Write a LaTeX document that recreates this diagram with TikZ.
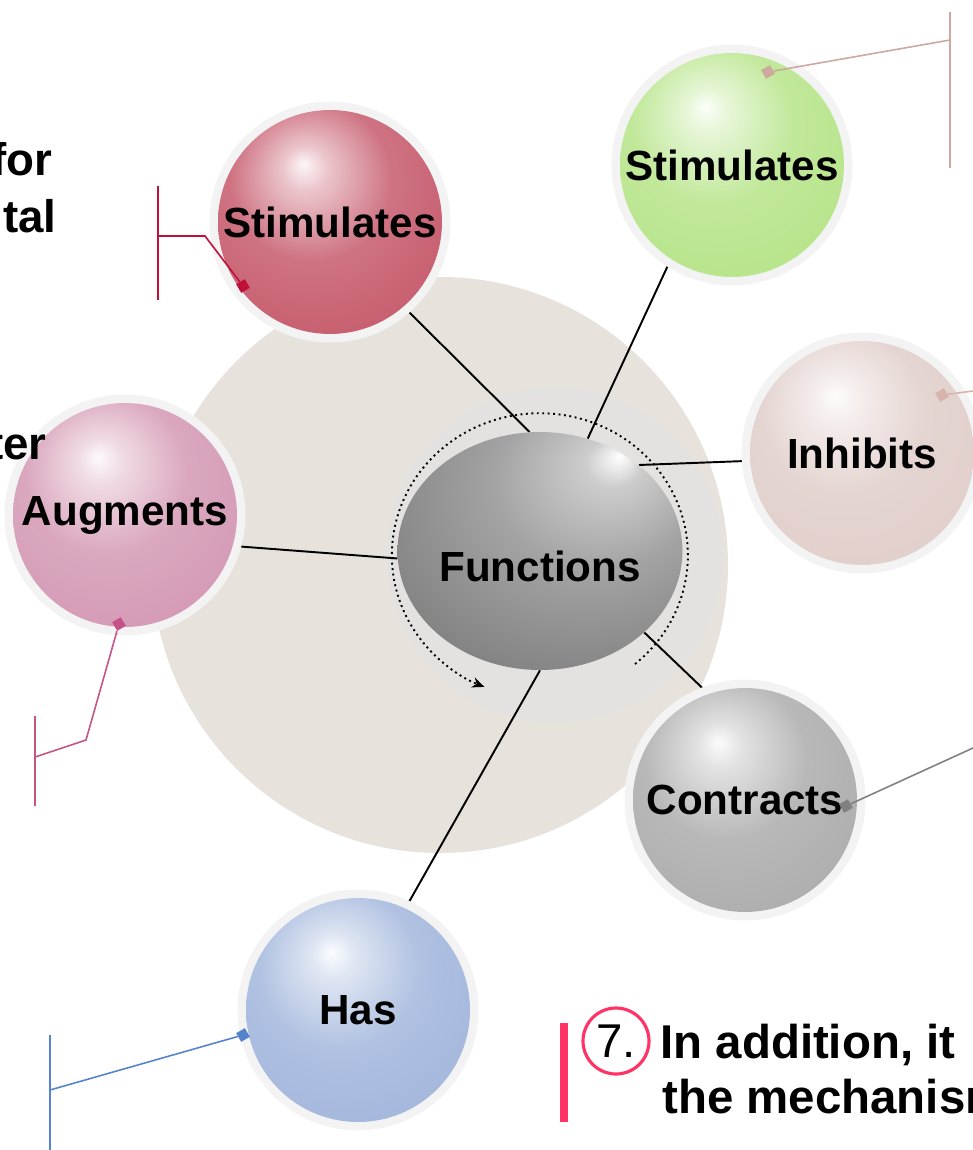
\documentclass[tikz,border=0pt]{standalone}
\usepackage{fontspec}
\setmainfont{Liberation Sans}
\usetikzlibrary{shapes.geometric, arrows.meta, backgrounds}

\definecolor{backdrop}{RGB}{232,226,221}
\definecolor{innerdisc}{RGB}{228,226,224}
\definecolor{halo}{RGB}{243,243,243}
\definecolor{ballred}{RGB}{198,90,108}
\definecolor{ballgreen}{RGB}{182,228,136}
\definecolor{ballpink}{RGB}{212,152,180}
\definecolor{ballrose}{RGB}{224,206,202}
\definecolor{ballgray}{RGB}{172,172,172}
\definecolor{ballblue}{RGB}{162,182,220}
\definecolor{leadred}{RGB}{192,16,56}
\definecolor{leadtan}{RGB}{204,168,158}
\definecolor{leadrose}{RGB}{214,180,172}
\definecolor{leadgray}{RGB}{128,128,128}
\definecolor{leadpink}{RGB}{196,84,136}
\definecolor{leadblue}{RGB}{84,132,204}
\definecolor{barpink}{RGB}{255,51,102}

\colorlet{sph}{gray}
\pgfdeclareradialshading[sph]{sphere}{\pgfpoint{-6bp}{13bp}}{%
  color(0bp)=(sph!5!white); color(5bp)=(sph!35!white);
  color(18bp)=(sph!85!white); color(36bp)=(sph);
  color(50bp)=(sph!85!black); color(62bp)=(sph!72!black)}
\pgfdeclareradialshading{fnshade}{\pgfpoint{14bp}{20bp}}{%
  color(0bp)=(white); color(5bp)=(black!20);
  color(18bp)=(black!36); color(35bp)=(black!48);
  color(50bp)=(black!70); color(62bp)=(black!85)}

\begin{document}
\begin{tikzpicture}[x=0.02cm, y=0.02cm,
  sphere color/.code={\colorlet{sph}{#1}},
  ball/.style={circle, minimum size=4.48cm, inner sep=0pt, shade, shading=sphere,
               sphere color=#1, preaction={draw=halo, line width=0.34cm},
               font=\fontsize{24}{28}\selectfont\bfseries},
  link/.style={line width=1.1pt},
  lead/.style={line width=0.9pt, draw=#1},
  knob/.style={rectangle, fill=#1, minimum size=0.2cm, inner sep=0pt, rotate=30},
  side/.style={font=\fontsize{26}{30}\selectfont\bfseries}
]
\useasboundingbox (0,0) rectangle (973,-1150);

% spheres
\node[ball=ballred]   (red)      at (330,-222)  {Stimulates};
\node[ball=ballgreen] (green)    at (732,-165)  {Stimulates};
\node[ball=ballrose]  (inhibits) at (862,-453)  {Inhibits};
\node[ball=ballpink]  (augments) at (125,-515)  {Augments};
\node[ball=ballgray]  (contracts) at (745,-800) {Contracts};
\node[ball=ballblue]  (has)      at (358,-1010) {Has};
\node[ellipse, minimum width=5.24cm, minimum height=4.76cm, inner sep=0pt,
      shade, shading=fnshade, text height=34.5pt, text depth=0pt,
      font=\fontsize{24}{28}\selectfont\bfseries]
      (fn) at (540,-551) {Functions};

\begin{pgfonlayer}{background}
\fill[backdrop] (440,-565) circle (288);
\fill[innerdisc] (555,-555) circle (168);
\draw[link] (red.-49) -- (fn.95);
\draw[link] (green.-123) -- (fn.67);
\draw[link] (inhibits.184) -- (fn.41);
\draw[link] (augments.-16) -- (fn.183);
\draw[link] (contracts.109) -- (fn.-38);
\draw[link] (has.65) -- (fn.-90);
\end{pgfonlayer}

% rotation arc
\draw[line width=1.1pt, dotted, -{Stealth[length=7pt, width=6pt]}]
  (635,-664) arc[start angle=-50, end angle=248, x radius=148, y radius=142];

% leaders
\node[knob=leadred] (redknob) at (243,-286) {};
\coordinate (redbend) at (205,-236);
\coordinate (redfoot) at (158,-236);
\draw[lead=leadred] (158,-186) -- (158,-300);
\draw[lead=leadred] (redknob) -- (redbend) -- (redfoot);

\node[knob=leadtan] (greenknob) at (768,-72) {};
\coordinate (greenfoot) at (950,-40);
\draw[lead=leadtan] (950,-12) -- (950,-168);
\draw[lead=leadtan] (greenknob) -- (greenfoot);

\node[knob=leadrose] (inhknob) at (942,-395) {};
\coordinate (inhend) at (973,-391);
\draw[lead=leadrose] (inhknob) -- (inhend);

\node[knob=leadgray] (conknob) at (846,-806) {};
\coordinate (conend) at (973,-748);
\draw[lead=leadgray] (conknob) -- (conend);

\node[knob=leadpink] (augknob) at (119,-624) {};
\coordinate (augbend) at (86,-740);
\coordinate (augfoot) at (35,-757);
\draw[lead=leadpink] (35,-716) -- (35,-806);
\draw[lead=leadpink] (augknob) -- (augbend) -- (augfoot);

\node[knob=leadblue] (hasknob) at (243,-1035) {};
\coordinate (hasfoot) at (50,-1090);
\draw[lead=leadblue] (50,-1035) -- (50,-1150);
\draw[lead=leadblue] (hasknob) -- (hasfoot);

% side texts
\node[side, anchor=base east, inner sep=0pt] (forword) at (53,-175) {for};
\node[side, anchor=base east, inner sep=0pt] (talword) at (57,-232) {tal};
\node[side, anchor=base east, inner sep=0pt] (terword) at (47,-459) {ter};

% bottom note
\fill[barpink] (560,-1023) rectangle (568,-1122);
\node[circle, draw=barpink, line width=1.8pt, minimum size=1.32cm, inner sep=0pt,
      font=\fontsize{27}{31}\selectfont] (seven) at (616,-1041) {7.};
\node[anchor=base west, inner sep=0pt, font=\fontsize{27}{31}\selectfont\bfseries]
      (lineA) at (660,-1058) {In addition, it};
\node[anchor=base west, inner sep=0pt, font=\fontsize{27}{31}\selectfont\bfseries]
      (lineB) at (662,-1113) {the mechanism};
\end{tikzpicture}
\end{document}
